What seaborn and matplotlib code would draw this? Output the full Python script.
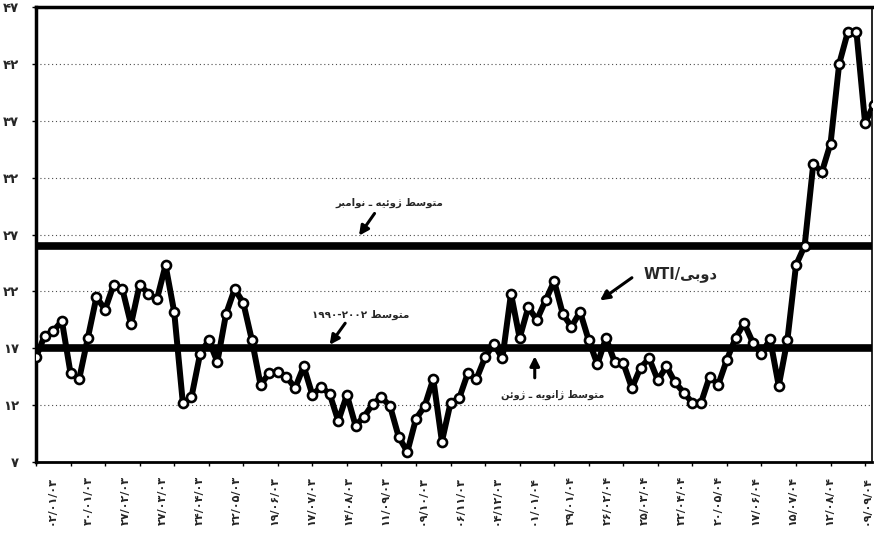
import numpy as np
import matplotlib
matplotlib.use("Agg")
import matplotlib.pyplot as plt
import seaborn as sns

# weekly values (first week of Jan 2003 onward)
values = [16.2, 18.1, 18.5, 19.4, 14.8, 14.3, 17.9, 21.5, 20.4, 22.6,
          22.2, 19.1, 22.6, 21.8, 21.3, 24.3, 20.2, 12.2, 12.7, 16.5,
          17.7, 15.8, 20.0, 22.2, 21.0, 17.7, 13.8, 14.8, 14.9, 14.5,
          13.5, 15.4, 12.9, 13.6, 13.0, 10.6, 12.9, 10.2, 11.0, 12.1,
          12.7, 11.9, 9.2, 7.9, 10.8, 11.9, 14.3, 8.8, 12.2, 12.6,
          14.8, 14.3, 16.2, 17.4, 16.1, 21.8, 17.9, 20.6, 19.5, 21.2,
          22.9, 20.0, 18.9, 20.2, 17.7, 15.6, 17.9, 15.8, 15.7, 13.5,
          15.3, 16.1, 14.2, 15.4, 14.0, 13.1, 12.2, 12.2, 14.5, 13.8,
          16.0, 17.9, 19.2, 17.5, 16.5, 17.8, 13.7, 17.7, 24.3, 26.0,
          33.2, 32.5, 35.0, 42.0, 44.8, 44.8, 36.8, 38.4]

avg_1990_2002 = 17.0
avg_jul_nov = 26.0

date_labels = ["۰۲/۰۱/۰۳", "۳۰/۰۱/۰۳", "۲۷/۰۲/۰۳", "۲۷/۰۳/۰۳", "۲۴/۰۴/۰۳",
               "۲۲/۰۵/۰۳", "۱۹/۰۶/۰۳", "۱۷/۰۷/۰۳", "۱۴/۰۸/۰۳", "۱۱/۰۹/۰۳",
               "۰۹/۱۰/۰۳", "۰۶/۱۱/۰۳", "۰۴/۱۲/۰۳", "۰۱/۰۱/۰۴", "۲۹/۰۱/۰۴",
               "۲۶/۰۲/۰۴", "۲۵/۰۳/۰۴", "۲۲/۰۴/۰۴", "۲۰/۰۵/۰۴", "۱۷/۰۶/۰۴",
               "۱۵/۰۷/۰۴", "۱۲/۰۸/۰۴", "۰۹/۰۹/۰۴"]
y_ticks = [7, 12, 17, 22, 27, 32, 37, 42, 47]

FA_DIGITS = str.maketrans("0123456789", "۰۱۲۳۴۵۶۷۸۹")

# presentation forms: isolated, final, initial, medial
FORMS = {
    "ا": ("\uFE8D", "\uFE8E", None, None),
    "ب": ("\uFE8F", "\uFE90", "\uFE91", "\uFE92"),
    "ت": ("\uFE95", "\uFE96", "\uFE97", "\uFE98"),
    "د": ("\uFEA9", "\uFEAA", None, None),
    "ر": ("\uFEAD", "\uFEAE", None, None),
    "ژ": ("\uFB8A", "\uFB8B", None, None),
    "س": ("\uFEB1", "\uFEB2", "\uFEB3", "\uFEB4"),
    "ط": ("\uFEC1", "\uFEC2", "\uFEC3", "\uFEC4"),
    "م": ("\uFEE1", "\uFEE2", "\uFEE3", "\uFEE4"),
    "ن": ("\uFEE5", "\uFEE6", "\uFEE7", "\uFEE8"),
    "ه": ("\uFEE9", "\uFEEA", "\uFEEB", "\uFEEC"),
    "و": ("\uFEED", "\uFEEE", None, None),
    "ئ": ("\uFE89", "\uFE8A", "\uFE8B", "\uFE8C"),
    "ی": ("\uFBFC", "\uFBFD", "\uFBFE", "\uFBFF"),
    "ـ": ("ـ", "ـ", "ـ", "ـ"),
}


def fa(text):
    """Shape Persian letters and reverse them, since matplotlib has no bidi."""
    out = []
    for i, c in enumerate(text):
        if c not in FORMS:
            out.append(c)
            continue
        prev = text[i - 1] if i > 0 else ""
        nxt = text[i + 1] if i + 1 < len(text) else ""
        join_prev = prev in FORMS and FORMS[prev][2] is not None
        join_next = FORMS[c][2] is not None and nxt in FORMS
        iso, fin, ini, med = FORMS[c]
        if join_prev and join_next:
            out.append(med)
        elif join_prev:
            out.append(fin)
        elif join_next:
            out.append(ini)
        else:
            out.append(iso)
    return "".join(out)[::-1]


sns.set_style("white")
plt.rcParams["font.family"] = ["DejaVu Sans"]

fig = plt.figure(figsize=(8.74, 5.35), dpi=100)
ax = fig.add_axes([36 / 874, 1 - 462 / 535, 836 / 874, 455 / 535])

x = np.arange(len(values))
ax.axhline(avg_1990_2002, color="black", lw=5.5, zorder=2)
ax.axhline(avg_jul_nov, color="black", lw=5.5, zorder=2)

sns.lineplot(x=x, y=values, ax=ax, color="black", lw=4.3, marker="o",
             markersize=6.5, markerfacecolor="white", markeredgecolor="black",
             markeredgewidth=1.9, zorder=3)
for ln in ax.lines:
    ln.set_solid_joinstyle("round")

ax.set_xlim(0, 96.8)
ax.set_ylim(7, 47)

ax.set_yticks(y_ticks)
ax.set_yticklabels([str(v).translate(FA_DIGITS) for v in y_ticks],
                   fontsize=9.5, fontweight="bold")
ax.yaxis.grid(True, linestyle=(0, (1, 2.5)), color="0.3", lw=0.8)
ax.set_axisbelow(True)

ax.set_xticks(np.arange(0, 97, 4))
ax.set_xticklabels([])
label_pos = np.linspace(1.85, 96.2, len(date_labels))
ax.set_xticks(label_pos, minor=True)
ax.set_xticklabels(date_labels, minor=True, rotation=90, fontsize=8,
                   fontweight="bold")
ax.tick_params(axis="x", which="major", direction="out", length=3, width=1,
               bottom=True, color="black")
ax.tick_params(axis="x", which="minor", length=0, pad=10)
ax.tick_params(axis="y", direction="out", length=3, width=1, left=True,
               pad=9, color="black")

for side, w in [("left", 2.5), ("top", 2.5), ("bottom", 2), ("right", 1.2)]:
    ax.spines[side].set_visible(True)
    ax.spines[side].set_color("black")
    ax.spines[side].set_linewidth(w)

arrow = dict(arrowstyle="-|>", color="black", lw=2.2, mutation_scale=14,
             shrinkA=0, shrinkB=0)
ax.annotate("", xy=(37.4, 26.9), xytext=(39.2, 28.85), arrowprops=arrow)
ax.text(40.9, 29.8, fa("متوسط ژوئیه ـ نوامبر"), fontsize=7.3,
        fontweight="bold", ha="center", va="center")

ax.annotate("", xy=(34.0, 17.3), xytext=(35.8, 19.2), arrowprops=arrow)
ax.text(37.6, 19.9, "۱۹۹۰-۲۰۰۲ " + fa("متوسط"), fontsize=7.5,
        fontweight="bold", ha="center", va="center")

ax.annotate("", xy=(57.75, 16.3), xytext=(57.75, 14.4), arrowprops=arrow)
ax.text(59.8, 12.9, fa("متوسط ژانویه ـ ژوئن"), fontsize=7.1,
        fontweight="bold", ha="center", va="center")

ax.annotate("", xy=(65.3, 21.2), xytext=(69.0, 23.2), arrowprops=arrow)
ax.text(74.6, 23.5, "WTI/" + fa("دوبی"), fontsize=10.5,
        fontweight="bold", ha="center", va="center")

fig.savefig("out.png", dpi=100)
